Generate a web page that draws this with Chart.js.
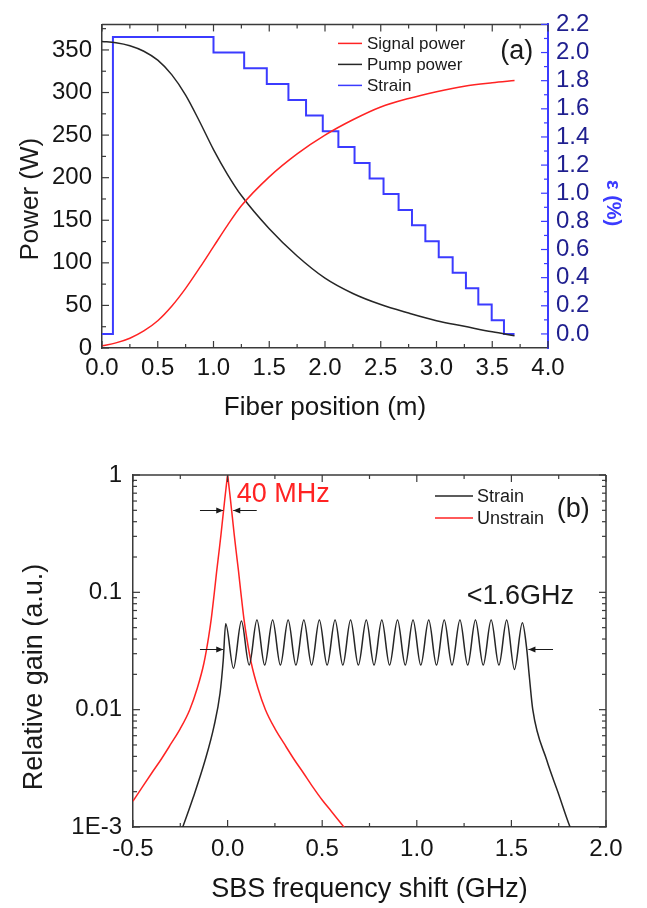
<!DOCTYPE html>
<html>
<head>
<meta charset="utf-8">
<script src="https://cdn.jsdelivr.net/npm/chart.js@4.4.0/dist/chart.umd.min.js"></script>
<style>
  html, body { margin: 0; padding: 0; background: #fff; }
  body { width: 647px; height: 908px; position: relative; overflow: hidden; }
  .panel { position: absolute; left: 0; }
  #panelA { top: 0; }
  #panelB { top: 440px; }
</style>
</head>
<body>
<div class="panel" id="panelA"><canvas id="chartA" width="647" height="440"></canvas></div>
<div class="panel" id="panelB"><canvas id="chartB" width="647" height="468"></canvas></div>
<script>
// ---------- (a) power and strain along the fiber ----------
const fiberPos    = [0, 0.125, 0.25, 0.375, 0.5, 0.625, 0.75, 0.875, 1.0, 1.125, 1.25, 1.5, 1.75, 2.0, 2.25, 2.5, 2.75, 3.0, 3.25, 3.5, 3.7];
const signalPower = [2.5, 6, 11.5, 20, 32, 49, 70, 94, 119, 144, 167, 201, 228, 250, 268, 283, 293, 301, 307.5, 311.5, 314];
const pumpPower   = [360, 358.5, 355, 348.5, 338, 321, 297, 266, 233, 204, 179, 140, 108, 82, 64, 51, 41, 32, 25.5, 19, 14.5];

// strain steps: value holds from each position to the next
const strainPos = [0, 0.098, 1.0, 1.275, 1.478, 1.672, 1.83, 1.98, 2.12, 2.265, 2.40, 2.525, 2.66, 2.78, 2.90, 3.02, 3.145, 3.264, 3.375, 3.495, 3.605, 3.70];
const strainVal = [0, 2.11, 2.0, 1.888, 1.776, 1.663, 1.552, 1.441, 1.328, 1.215, 1.105, 0.994, 0.88, 0.773, 0.659, 0.545, 0.434, 0.325, 0.209, 0.098, 0, 0];

const xTicksA      = [0, 0.5, 1.0, 1.5, 2.0, 2.5, 3.0, 3.5, 4.0];
const xMinorA      = [0.25, 0.75, 1.25, 1.75, 2.25, 2.75, 3.25, 3.75];
const powerTicks   = [0, 50, 100, 150, 200, 250, 300, 350];
const powerMinor   = [25, 75, 125, 175, 225, 275, 325, 375];
const strainTicks  = [0, 0.2, 0.4, 0.6, 0.8, 1.0, 1.2, 1.4, 1.6, 1.8, 2.0, 2.2];
const strainMinor  = [0.1, 0.3, 0.5, 0.7, 0.9, 1.1, 1.3, 1.5, 1.7, 1.9, 2.1];

// ---------- (b) SBS gain spectra ----------
const shiftUnstrain = [-0.5, -0.45, -0.4, -0.35, -0.3, -0.25, -0.2, -0.16, -0.125, -0.1, -0.086, -0.07, -0.058, -0.045, -0.035, -0.025, -0.02, -0.015, -0.01, -0.005, 0,
  0.005, 0.01, 0.015, 0.02, 0.025, 0.035, 0.045, 0.058, 0.07, 0.086, 0.1, 0.125, 0.16, 0.2, 0.25, 0.3, 0.35, 0.4, 0.45, 0.5, 0.55, 0.6, 0.65];
const gainUnstrain = [0.00166, 0.0022, 0.0029, 0.0038, 0.0051, 0.0069, 0.01, 0.0153, 0.025, 0.042, 0.06, 0.1, 0.15, 0.225, 0.31, 0.44, 0.52, 0.62, 0.73, 0.86, 1,
  0.86, 0.73, 0.62, 0.52, 0.44, 0.31, 0.225, 0.15, 0.1, 0.06, 0.042, 0.025, 0.0153, 0.01, 0.0069, 0.0051, 0.0038, 0.0029, 0.0022, 0.0017, 0.00135, 0.00107, 0.00085];

const shiftStrain = [-0.25, -0.237, -0.181, -0.119, -0.072, -0.04, -0.023,
  -0.01, 0.031, 0.073, 0.114, 0.155, 0.196, 0.238, 0.279, 0.32, 0.361, 0.403, 0.444, 0.485, 0.526,
  0.568, 0.609, 0.65, 0.691, 0.733, 0.774, 0.815, 0.856, 0.898, 0.939, 0.98, 1.021, 1.063, 1.104,
  1.145, 1.186, 1.228, 1.269, 1.31, 1.351, 1.393, 1.434, 1.475, 1.516, 1.558,
  1.58, 1.595, 1.613, 1.687, 1.748, 1.81, 1.83];
const gainStrain = [0.00088, 0.001, 0.0018, 0.0037, 0.0072, 0.0138, 0.0265,
  0.054, 0.0225, 0.057, 0.024, 0.058, 0.024, 0.058, 0.024, 0.058, 0.024, 0.058, 0.024, 0.058, 0.024,
  0.058, 0.024, 0.058, 0.024, 0.058, 0.024, 0.058, 0.024, 0.058, 0.024, 0.058, 0.024, 0.058, 0.024,
  0.058, 0.024, 0.058, 0.024, 0.058, 0.024, 0.058, 0.024, 0.058, 0.022, 0.055,
  0.034, 0.019, 0.01, 0.0037, 0.00194, 0.001, 0.00085];

const xTicksB     = [-0.5, 0, 0.5, 1.0, 1.5, 2.0];
const xMinorB     = [-0.25, 0.25, 0.75, 1.25, 1.75];
const gainTicks   = [0.001, 0.01, 0.1, 1];
const gainLabels  = ['1E-3', '0.01', '0.1', '1'];
const gainMinor   = [0.002, 0.003, 0.004, 0.005, 0.006, 0.007, 0.008, 0.009,
                     0.02, 0.03, 0.04, 0.05, 0.06, 0.07, 0.08, 0.09,
                     0.2, 0.3, 0.4, 0.5, 0.6, 0.7, 0.8, 0.9];

// linewidth markers in panel (b), in data units
const fwhmArrows = [{ from: -0.146, to: -0.023, y: 0.5 }, { from: 0.154, to: 0.030, y: 0.5 }];
const bandArrows = [{ from: -0.146, to: -0.023, y: 0.033 }, { from: 1.72, to: 1.59, y: 0.033 }];

const FONT = '"Liberation Sans", Arial, Helvetica, sans-serif';
const RED = '#ff2323';
const BLACK = '#262626';
const BLUE = '#3b3bff';
const NAVY = '#1f1f8f';
const AXIS = '#3a3a3a';

Chart.defaults.font.family = FONT;
Chart.defaults.color = '#151515';

function pts(xs, ys) {
    return xs.map(function(x, i) { return { x: x, y: ys[i] }; });
}

function setTicks(values) {
    return function(scale) {
        scale.ticks = values.map(function(v) { return { value: v }; });
    };
}

// tick marks drawn inward, plus the mirrored frame sides
const inwardTicks = {
    id: 'inwardTicks',
    afterDatasetsDraw(chart, args, opts) {
        const ctx = chart.ctx;
        const a = chart.chartArea;
        ctx.save();
        ctx.lineCap = 'butt';
        (opts.frame || []).forEach(function(side) {
            ctx.strokeStyle = AXIS;
            ctx.lineWidth = 1.5;
            ctx.beginPath();
            if (side === 'top') { ctx.moveTo(a.left, a.top); ctx.lineTo(a.right, a.top); }
            if (side === 'right') { ctx.moveTo(a.right, a.top); ctx.lineTo(a.right, a.bottom); }
            ctx.stroke();
        });
        (opts.marks || []).forEach(function(m) {
            const scale = chart.scales[m.axis];
            ctx.strokeStyle = m.color;
            ctx.lineWidth = 1.2;
            function draw(v, len) {
                const p = scale.getPixelForValue(v);
                m.sides.forEach(function(side) {
                    ctx.beginPath();
                    if (side === 'bottom') { ctx.moveTo(p, a.bottom); ctx.lineTo(p, a.bottom - len); }
                    else if (side === 'top') { ctx.moveTo(p, a.top); ctx.lineTo(p, a.top + len); }
                    else if (side === 'left') { ctx.moveTo(a.left, p); ctx.lineTo(a.left + len, p); }
                    else { ctx.moveTo(a.right, p); ctx.lineTo(a.right - len, p); }
                    ctx.stroke();
                });
            }
            m.major.forEach(function(v) { draw(v, 7); });
            m.minor.forEach(function(v) { draw(v, 4); });
        });
        ctx.restore();
    }
};

// rotated y axis titles, placed off the axis centre like the original
const yTitles = {
    id: 'yTitles',
    afterDraw(chart, args, opts) {
        const ctx = chart.ctx;
        const a = chart.chartArea;
        ctx.save();
        (opts.items || []).forEach(function(t) {
            ctx.save();
            ctx.translate(t.x, (a.top + a.bottom) / 2 + t.dy);
            ctx.rotate(t.rotation);
            ctx.font = t.font;
            ctx.fillStyle = t.color;
            ctx.textAlign = 'center';
            ctx.textBaseline = 'middle';
            ctx.fillText(t.text, 0, 0);
            ctx.restore();
        });
        ctx.restore();
    }
};

// legend inside the plot, top right
const innerLegend = {
    id: 'innerLegend',
    afterDraw(chart, args, opts) {
        const ctx = chart.ctx;
        const a = chart.chartArea;
        ctx.save();
        ctx.font = opts.font;
        ctx.textBaseline = 'middle';
        ctx.textAlign = 'left';
        chart.data.datasets.forEach(function(ds, i) {
            const y = a.top + opts.top + i * opts.rowHeight;
            ctx.strokeStyle = ds.borderColor;
            ctx.lineWidth = 1.5;
            ctx.beginPath();
            ctx.moveTo(a.right - opts.lineFrom, y);
            ctx.lineTo(a.right - opts.lineTo, y);
            ctx.stroke();
            ctx.fillStyle = '#1a1a1a';
            ctx.fillText(ds.label, a.right - opts.textAt, y + 1);
        });
        ctx.restore();
    }
};

// text notes and arrows placed in data coordinates
const notes = {
    id: 'notes',
    afterDraw(chart, args, opts) {
        const ctx = chart.ctx;
        const xs = chart.scales.x;
        ctx.save();
        (opts.texts || []).forEach(function(t) {
            const ys = chart.scales[t.axis || 'y'];
            ctx.font = t.font;
            ctx.fillStyle = t.color;
            ctx.textAlign = t.align;
            ctx.textBaseline = 'middle';
            ctx.fillText(t.text, xs.getPixelForValue(t.x), ys.getPixelForValue(t.y));
        });
        (opts.arrows || []).forEach(function(ar) {
            const ys = chart.scales.y;
            const x0 = xs.getPixelForValue(ar.from);
            const x1 = xs.getPixelForValue(ar.to);
            const y = Math.round(ys.getPixelForValue(ar.y)) + 0.5;
            const dir = x1 > x0 ? 1 : -1;
            ctx.strokeStyle = '#1a1a1a';
            ctx.fillStyle = '#1a1a1a';
            ctx.lineWidth = 1;
            ctx.beginPath();
            ctx.moveTo(x0, y);
            ctx.lineTo(x1, y);
            ctx.stroke();
            ctx.beginPath();
            ctx.moveTo(x1, y);
            ctx.lineTo(x1 - dir * 7, y - 3);
            ctx.lineTo(x1 - dir * 7, y + 3);
            ctx.closePath();
            ctx.fill();
        });
        ctx.restore();
    }
};

const tickFont = { size: 24 };

// ---------- chart (a) ----------
new Chart(document.getElementById('chartA'), {
    type: 'line',
    data: {
        datasets: [
            {
                label: 'Signal power',
                data: pts(fiberPos, signalPower),
                borderColor: RED,
                borderWidth: 1.5,
                pointRadius: 0,
                cubicInterpolationMode: 'monotone',
                yAxisID: 'y'
            },
            {
                label: 'Pump power',
                data: pts(fiberPos, pumpPower),
                borderColor: BLACK,
                borderWidth: 1.5,
                pointRadius: 0,
                cubicInterpolationMode: 'monotone',
                yAxisID: 'y'
            },
            {
                label: 'Strain',
                data: pts(strainPos, strainVal),
                borderColor: BLUE,
                borderWidth: 2,
                pointRadius: 0,
                stepped: true,
                yAxisID: 'y1'
            }
        ]
    },
    options: {
        responsive: false,
        animation: false,
        layout: { padding: { top: 17, left: 0, right: 0, bottom: 0 } },
        plugins: {
            legend: { display: false },
            tooltip: { enabled: false },
            innerLegend: { font: '17px ' + FONT, top: 19, rowHeight: 21, lineFrom: 210, lineTo: 186, textAt: 181 },
            inwardTicks: {
                frame: ['top'],
                marks: [
                    { axis: 'x', major: xTicksA, minor: xMinorA, sides: ['bottom', 'top'], color: AXIS },
                    { axis: 'y', major: powerTicks, minor: powerMinor, sides: ['left'], color: AXIS },
                    { axis: 'y1', major: strainTicks, minor: strainMinor, sides: ['right'], color: BLUE }
                ]
            },
            yTitles: {
                items: [
                    { text: 'Power (W)', x: 31, dy: 13, rotation: -Math.PI / 2, font: '26px ' + FONT, color: '#1a1a1a' },
                    { text: 'ε (%)', x: 613, dy: 17, rotation: Math.PI / 2, font: 'bold 20px ' + FONT, color: BLUE }
                ]
            },
            notes: {
                texts: [
                    { text: '(a)', x: 3.72, y: 348, align: 'center', font: '27px ' + FONT, color: '#1a1a1a' }
                ]
            }
        },
        scales: {
            x: {
                type: 'linear',
                min: 0,
                max: 4,
                afterBuildTicks: setTicks(xTicksA),
                afterFit: function(s) { s.height = 92; },
                ticks: { font: tickFont, padding: 6, maxRotation: 0, autoSkip: false,
                         callback: function(v) { return v.toFixed(1); } },
                grid: { drawOnChartArea: false, drawTicks: false },
                border: { color: AXIS, width: 1.5 },
                title: { display: true, text: 'Fiber position (m)', font: { size: 26 }, padding: { top: 0, bottom: 17 } }
            },
            y: {
                type: 'linear',
                position: 'left',
                min: 0,
                max: 380,
                afterBuildTicks: setTicks(powerTicks),
                afterFit: function(s) { s.width = 102; },
                ticks: { font: tickFont, padding: 10, autoSkip: false },
                grid: { drawOnChartArea: false, drawTicks: false },
                border: { color: AXIS, width: 1.5 }
            },
            y1: {
                type: 'linear',
                position: 'right',
                min: -0.1,
                max: 2.2,
                afterBuildTicks: setTicks(strainTicks),
                afterFit: function(s) { s.width = 99; },
                ticks: { font: tickFont, padding: 8, color: NAVY, autoSkip: false,
                         callback: function(v) { return v.toFixed(1); } },
                grid: { drawOnChartArea: false, drawTicks: false },
                border: { color: BLUE, width: 2 }
            }
        }
    },
    plugins: [inwardTicks, yTitles, innerLegend, notes]
});

// ---------- chart (b) ----------
new Chart(document.getElementById('chartB'), {
    type: 'line',
    data: {
        datasets: [
            {
                label: 'Strain',
                data: pts(shiftStrain, gainStrain),
                borderColor: BLACK,
                borderWidth: 1.5,
                pointRadius: 0,
                cubicInterpolationMode: 'monotone'
            },
            {
                label: 'Unstrain',
                data: pts(shiftUnstrain, gainUnstrain),
                borderColor: RED,
                borderWidth: 1.5,
                pointRadius: 0,
                cubicInterpolationMode: 'monotone'
            }
        ]
    },
    options: {
        responsive: false,
        animation: false,
        layout: { padding: { top: 35, left: 0, right: 41, bottom: 0 } },
        plugins: {
            legend: { display: false },
            tooltip: { enabled: false },
            innerLegend: { font: '18px ' + FONT, top: 21, rowHeight: 22, lineFrom: 171, lineTo: 133, textAt: 129 },
            inwardTicks: {
                frame: ['top', 'right'],
                marks: [
                    { axis: 'x', major: xTicksB, minor: xMinorB, sides: ['bottom', 'top'], color: AXIS },
                    { axis: 'y', major: gainTicks, minor: gainMinor, sides: ['left', 'right'], color: AXIS }
                ]
            },
            yTitles: {
                items: [
                    { text: 'Relative gain (a.u.)', x: 35, dy: 26, rotation: -Math.PI / 2, font: '27px ' + FONT, color: '#1a1a1a' }
                ]
            },
            notes: {
                texts: [
                    { text: '40 MHz', x: 0.048, y: 0.675, align: 'left', font: '27px ' + FONT, color: RED },
                    { text: '<1.6GHz', x: 1.264, y: 0.0917, align: 'left', font: '27px ' + FONT, color: '#1a1a1a' },
                    { text: '(b)', x: 1.827, y: 0.503, align: 'center', font: '27px ' + FONT, color: '#1a1a1a' }
                ],
                arrows: fwhmArrows.concat(bandArrows)
            }
        },
        scales: {
            x: {
                type: 'linear',
                min: -0.5,
                max: 2.0,
                afterBuildTicks: setTicks(xTicksB),
                afterFit: function(s) { s.height = 81; },
                ticks: { font: tickFont, padding: 8, maxRotation: 0, autoSkip: false,
                         callback: function(v) { return v.toFixed(1); } },
                grid: { drawOnChartArea: false, drawTicks: false },
                border: { color: AXIS, width: 1.5 },
                title: { display: true, text: 'SBS frequency shift (GHz)', font: { size: 27 }, padding: { top: 0, bottom: 2 } }
            },
            y: {
                type: 'logarithmic',
                min: 0.001,
                max: 1,
                afterBuildTicks: setTicks(gainTicks),
                afterFit: function(s) { s.width = 133; },
                ticks: { font: tickFont, padding: 11, autoSkip: false,
                         callback: function(v, i) { return gainLabels[i]; } },
                grid: { drawOnChartArea: false, drawTicks: false },
                border: { color: AXIS, width: 1.5 }
            }
        }
    },
    plugins: [inwardTicks, yTitles, innerLegend, notes]
});
</script>
</body>
</html>
